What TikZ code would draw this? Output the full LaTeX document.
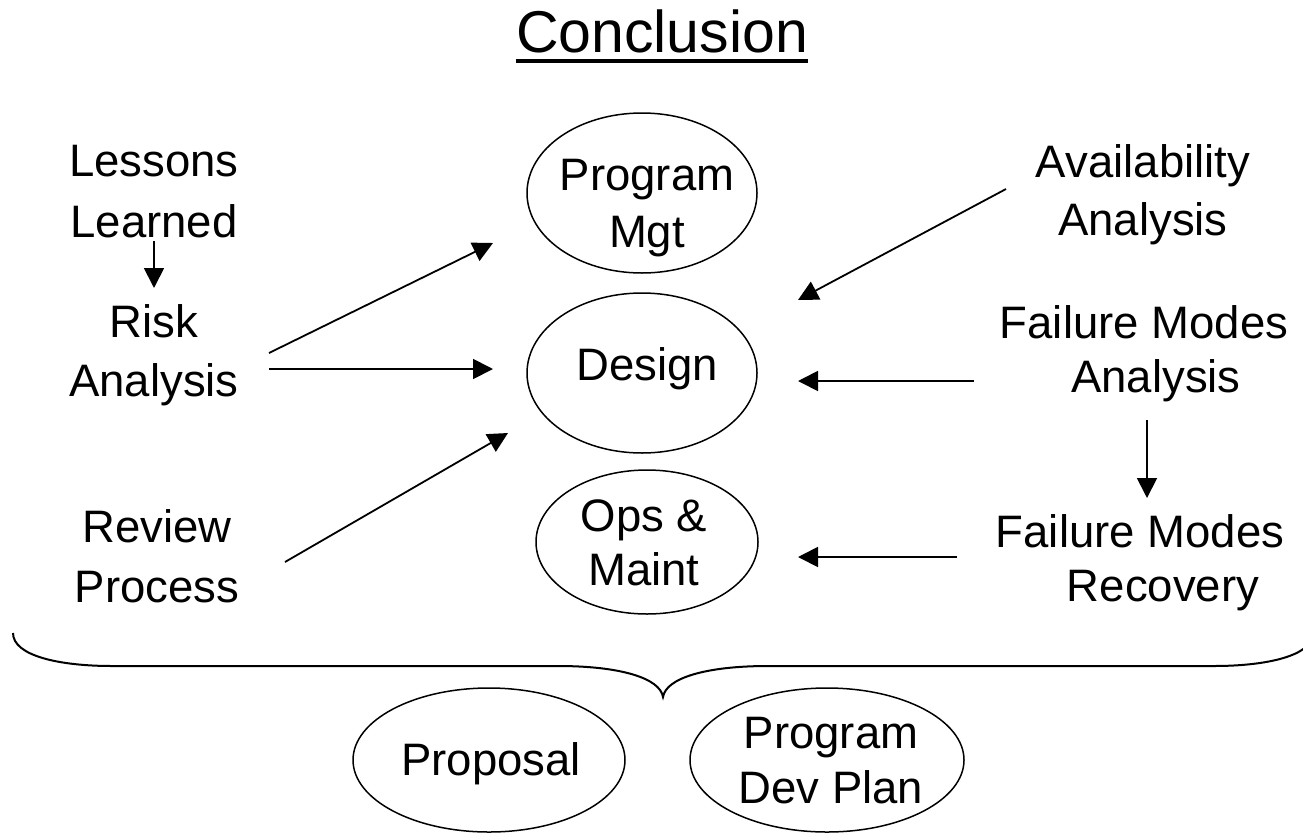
\documentclass[tikz,border=0pt]{standalone}
\usepackage{fontspec}
\setmainfont{Liberation Sans}
\usetikzlibrary{arrows.meta,shapes.geometric,calc}
\begin{document}
\begin{tikzpicture}[x=1pt,y=-1pt,
 lbl/.style={align=center, inner sep=0pt, anchor=base},
 oval/.style={ellipse, draw, line width=1.5pt, inner sep=0pt},
 arr/.style={line width=1.8pt, -{Triangle[length=20pt,width=20pt]}},
]
\useasboundingbox (0,0) rectangle (1303,833);
% title
\node[font=\fontsize{59}{70}\selectfont, inner sep=0pt, anchor=base] (title) at (662,52) {Conclusion};
\draw[line width=4pt] ($(title.base west)+(0,9)$) -- ($(title.base east)+(0,9)$);
% left labels (anchor base = last line)
\node[lbl, font=\fontsize{45.5}{61}\selectfont] (lessons) at (154,237) {Lessons\\Learned};
\node[lbl, font=\fontsize{45.5}{59}\selectfont] (risk) at (154,396) {Risk\\Analysis};
\node[lbl, font=\fontsize{45.5}{60}\selectfont] (review) at (157,602) {Review\\Process};
% right labels
\node[lbl, font=\fontsize{45.5}{58}\selectfont] (avail) at (1143,235) {Availability\\Analysis};
\node[lbl, font=\fontsize{45.5}{54}\selectfont] (fma) at (1144,392) {Failure Modes\\\hspace{24pt}Analysis};
\node[lbl, font=\fontsize{45.5}{54}\selectfont] (fmr) at (1140,601) {Failure Modes\\\hspace{46pt}Recovery};
% ovals
\node[oval, minimum width=230pt, minimum height=160pt] (pm) at (642,193) {};
\node[oval, minimum width=230pt, minimum height=160pt] (design) at (642,373) {};
\node[oval, minimum width=222pt, minimum height=144pt] (ops) at (647,542) {};
\node[oval, minimum width=272pt, minimum height=144pt] (prop) at (489,760) {};
\node[oval, minimum width=274pt, minimum height=144pt] (pdp) at (827,760) {};
% oval texts
\node[lbl, font=\fontsize{45.5}{57}\selectfont] (pm-text) at (647,247) {Program\\Mgt};
\node[lbl, font=\fontsize{45.5}{57}\selectfont] (design-text) at (647,380) {Design};
\node[lbl, font=\fontsize{45.5}{54}\selectfont] (ops-text) at (644,585) {Ops \&\\Maint};
\node[lbl, font=\fontsize{45.5}{55}\selectfont] (prop-text) at (491,775) {Proposal};
\node[lbl, font=\fontsize{45.5}{55}\selectfont] (pdp-text) at (831,803) {Program\\Dev Plan};
% arrow end points
\coordinate (lessons-out) at (154,241);
\coordinate (risk-in) at (154,288);
\coordinate (risk-out1) at (269,353);
\coordinate (risk-out2) at (269,369);
\coordinate (pm-in) at (493,243);
\coordinate (design-inL) at (493,369);
\coordinate (review-out) at (285,562);
\coordinate (design-inLL) at (508,433);
\coordinate (avail-out) at (1006,189);
\coordinate (design-inUR) at (798,300);
\coordinate (fma-out) at (974,381);
\coordinate (design-inR) at (798,381);
\coordinate (fma-down) at (1147,420);
\coordinate (fmr-in) at (1147,498);
\coordinate (fmr-out) at (957,557);
\coordinate (ops-in) at (798,557);
% arrows
\draw[arr] (lessons-out) -- (risk-in);
\draw[arr] (risk-out1) -- (pm-in);
\draw[arr] (risk-out2) -- (design-inL);
\draw[arr] (review-out) -- (design-inLL);
\draw[arr] (avail-out) -- (design-inUR);
\draw[arr] (fma-out) -- (design-inR);
\draw[arr] (fma-down) -- (fmr-in);
\draw[arr] (fmr-out) -- (ops-in);
% brace
\draw[line width=2pt] (13,633) .. controls (13,656) and (60,666) .. (112,666) -- (558,666)
  .. controls (620,666) and (660,678) .. (663,697)
  .. controls (666,678) and (706,666) .. (768,666) -- (1214,666)
  .. controls (1266,666) and (1313,656) .. (1313,633);
\end{tikzpicture}
\end{document}
